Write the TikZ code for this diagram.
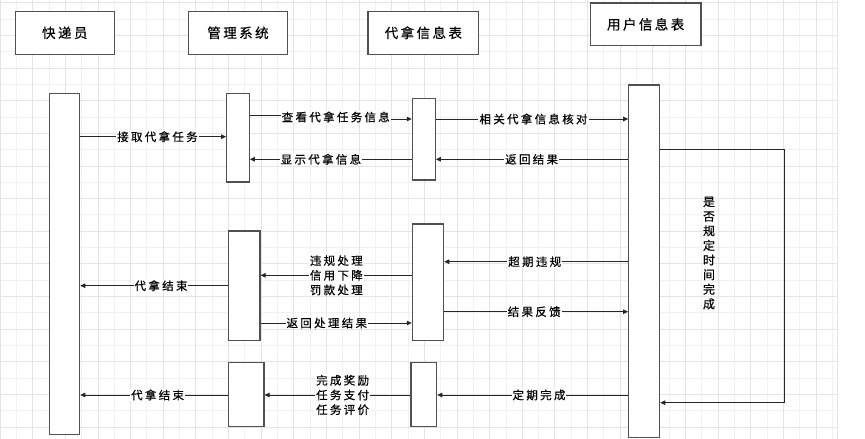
\documentclass[tikz,border=0pt]{standalone}
\usepackage{fontspec}
\usetikzlibrary{arrows.meta}
\newfontfamily\cjk[LetterSpace=20,FakeBold=0.5]{Noto Sans CJK SC}
\newfontfamily\cjkh[LetterSpace=18,FakeBold=0.5]{Noto Sans CJK SC}
\newfontfamily\cjkv[FakeBold=0.5]{Noto Sans CJK SC}
\definecolor{gridA}{HTML}{E4E4E4}
\definecolor{gridB}{HTML}{F1F1F1}
\definecolor{boxc}{HTML}{505050}
\begin{document}
\begin{tikzpicture}[x=1pt,y=-1pt,
  hdr/.style={draw=boxc, line width=1.1pt, fill=white, inner sep=0pt, font=\cjkh\fontsize{13.5}{15}\selectfont},
  bar/.style={draw=boxc, line width=1.1pt, fill=white, inner sep=0pt},
  msg/.style={draw=black!85, line width=0.8pt, -{Triangle[length=5pt,width=4.5pt]}},
  lbl/.style={fill=white, inner sep=1pt, font=\cjk\fontsize{11.5}{14.7}\selectfont, align=center},
  vtxt/.style={inner sep=0pt, font=\cjkv\fontsize{12}{14.6}\selectfont, align=center}]
\useasboundingbox (0,0) rectangle (865,439);
\fill[white] (0,0) rectangle (865,439);
% grid
\foreach \k in {1,3,...,51}{
  \draw[gridB, line width=0.8pt] ({16.32*\k},0) -- ({16.32*\k},439);
}
\foreach \k in {1,3,...,25}{
  \draw[gridB, line width=0.8pt] (0,{2.7+16.32*\k}) -- (837.3,{2.7+16.32*\k});
}
\foreach \k in {0,2,...,50}{
  \draw[gridA, line width=0.8pt] ({16.32*\k},0) -- ({16.32*\k},439);
}
\foreach \k in {0,2,...,26}{
  \draw[gridA, line width=0.8pt] (0,{2.7+16.32*\k}) -- (837.3,{2.7+16.32*\k});
}
\draw[gridA, line width=0.8pt] (837.3,0) -- (837.3,439);
% headers
\node[hdr, minimum width=99pt, minimum height=43pt] (h1) at (64.8,32.8) {快递员};
\node[hdr, minimum width=98.6pt, minimum height=43pt] (h2) at (238,32.8) {管理系统};
\node[hdr, minimum width=110.7pt, minimum height=43pt] (h3) at (423.35,32.8) {代拿信息表};
\node[hdr, minimum width=110.7pt, minimum height=42.7pt] (h4) at (645.65,24.35) {用户信息表};
% activation bars
\node[bar, minimum width=30.4pt, minimum height=341pt] (kd) at (64.5,263.8) {};
\node[bar, minimum width=22.6pt, minimum height=88.7pt] (gl1) at (238,137.65) {};
\node[bar, minimum width=23pt, minimum height=81.3pt] (dn1) at (423.8,139.35) {};
\node[bar, minimum width=31pt, minimum height=352.7pt] (yh) at (644.2,261.35) {};
\node[bar, minimum width=31.3pt, minimum height=109.3pt] (gl2) at (244.35,285.65) {};
\node[bar, minimum width=31.4pt, minimum height=116.3pt] (dn2) at (428,282.15) {};
\node[bar, minimum width=35.3pt, minimum height=64pt] (gl3) at (246.35,394.7) {};
\node[bar, minimum width=25.7pt, minimum height=64pt] (dn3) at (423.85,394.7) {};
% messages
\draw[msg] (kd.east |- 0,136.7) -- node[lbl, pos=0.529] {接取代拿任务} (gl1.west |- 0,136.7);
\coordinate (j1) at (335.8,115.5);
\draw[msg] (gl1.east |- j1) -- (j1) |- (dn1.west |- 0,119);
\node[lbl] (l2) at (335.8,117) {查看代拿任务信息};
\draw[msg] (dn1.west |- 0,159.3) -- node[lbl, pos=0.561] {显示代拿信息} (gl1.east |- 0,159.3);
\draw[msg] (dn1.east |- 0,119) -- node[lbl, pos=0.508] {相关代拿信息核对} (yh.west |- 0,119);
\draw[msg] (yh.west |- 0,159.3) -- node[lbl, pos=0.502] {返回结果} (dn1.east |- 0,159.3);
\draw[msg] (yh.west |- 0,261.7) -- node[lbl, pos=0.508] {超期违规} (dn2.east |- 0,261.7);
\draw[msg] (dn2.east |- 0,311.7) -- node[lbl, pos=0.489] {结果反馈} (yh.west |- 0,311.7);
\draw[msg] (yh.west |- 0,395) -- node[lbl, pos=0.467] {定期完成} (dn3.east |- 0,395);
\draw[msg] (dn2.west |- 0,275.3) -- node[lbl, pos=0.499] {违规处理\\信用下降\\罚款处理} (gl2.east |- 0,275.3);
\draw[msg] (gl2.east |- 0,323) -- node[lbl, pos=0.438] {返回处理结果} (dn2.west |- 0,323);
\draw[msg] (dn3.west |- 0,395) -- node[lbl, pos=0.465] {完成奖励\\任务支付\\任务评价} (gl3.east |- 0,395);
\draw[msg] (gl2.west |- 0,285.7) -- node[lbl, pos=0.454] {代拿结束} (kd.east |- 0,285.7);
\draw[msg] (gl3.west |- 0,395) -- node[lbl, pos=0.477] {代拿结束} (kd.east |- 0,395);
% self loop
\coordinate (lc) at (784.3,300);
\draw[msg] (yh.east |- 0,149.3) -| (lc) |- (yh.east |- 0,402.7);
\node[vtxt] (vt) at (709,253) {是\\否\\规\\定\\时\\间\\完\\成};
\end{tikzpicture}
\end{document}
